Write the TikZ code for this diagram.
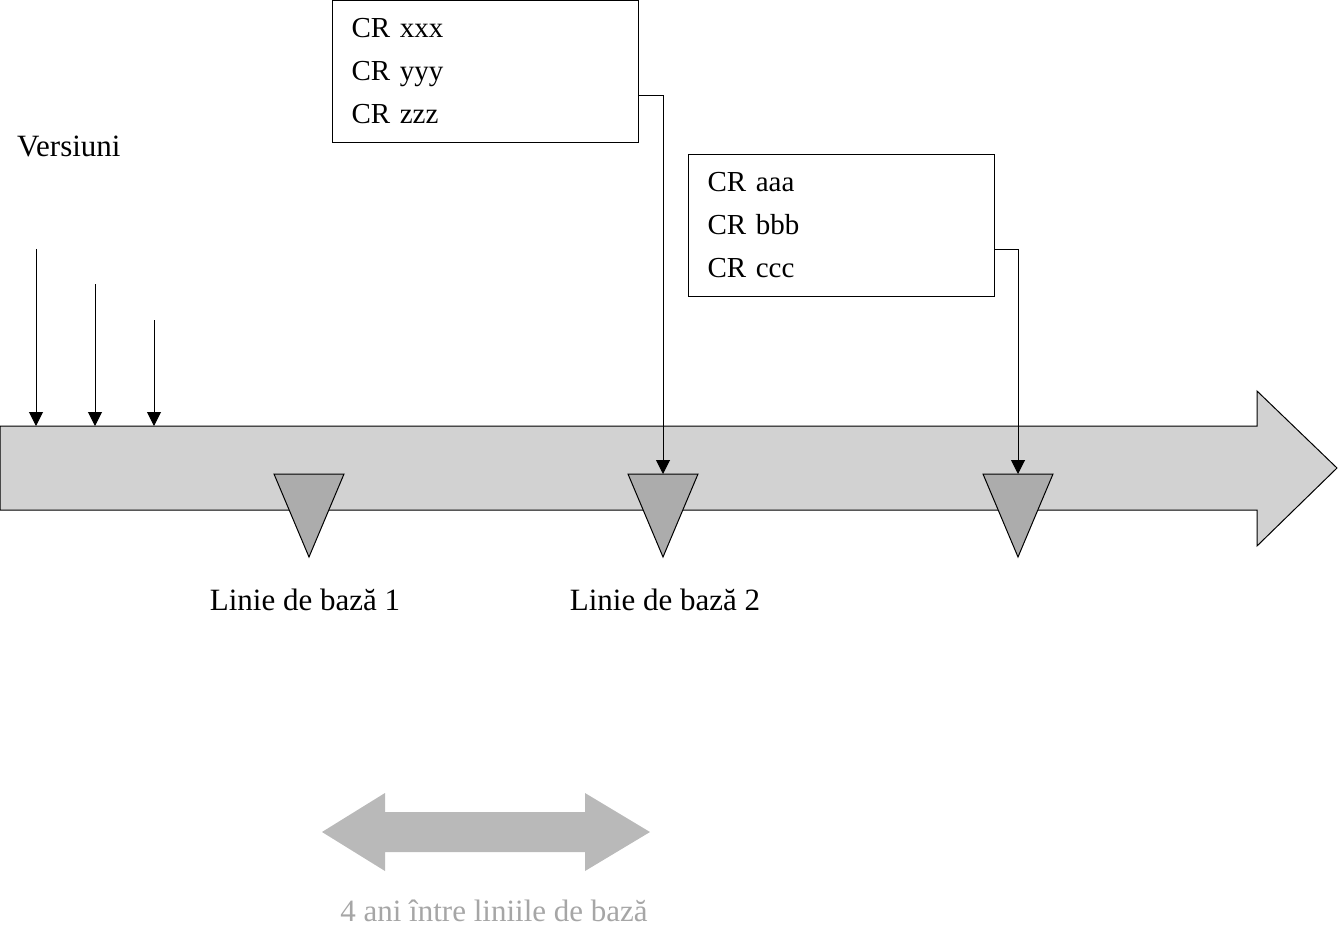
\documentclass[tikz,border=0pt]{standalone}
\usepackage{fontspec}
\setmainfont{Liberation Serif}
\usetikzlibrary{arrows.meta,patterns}
\begin{document}
\begin{tikzpicture}[x=1pt,y=-1pt,
  txt/.style={font=\fontsize{31}{43}\selectfont, inner sep=0pt},
  crbox/.style={draw=black, line width=1pt, fill=white, anchor=north west,
    minimum width=306pt, minimum height=142pt, text width=268pt,
    inner xsep=19pt, align=left, font=\fontsize{29}{43}\selectfont},
  conn/.style={draw=black, line width=1pt, -{Triangle[length=14pt,width=14pt]}},
  bar/.style={draw=black, line width=1pt, fill=gray!35},
  tri/.style={draw=black, line width=1pt, fill=gray!65},
]
\useasboundingbox (0,0) rectangle (1339,928);
% main timeline arrow
\draw[bar] (0,426) -- (1257,426) -- (1257,391) -- (1337,468) -- (1257,546)
  -- (1257,510) -- (0,510) -- cycle;
% baseline triangles
\draw[tri] (274,474) -- (344,474) -- (309,557) -- cycle;
\draw[tri] (628,474) -- (698,474) -- (663,557) -- cycle;
\draw[tri] (983,474) -- (1053,474) -- (1018,557) -- cycle;
\coordinate (t2) at (663,474);
\coordinate (t3) at (1018,474);
% version arrows
\coordinate (v1s) at (36,249);  \coordinate (v1e) at (36,426);
\coordinate (v2s) at (95,284);  \coordinate (v2e) at (95,426);
\coordinate (v3s) at (154,320); \coordinate (v3e) at (154,426);
\draw[conn] (v1s) -- (v1e);
\draw[conn] (v2s) -- (v2e);
\draw[conn] (v3s) -- (v3e);
\node[txt, anchor=west] (vers) at (17,146) {Versiuni};
% CR boxes
\node[crbox] (box1) at (332,0) {CR xxx\\CR yyy\\CR zzz};
\node[crbox] (box2) at (688,154) {CR aaa\\CR bbb\\CR ccc};
\draw[conn] ([yshift=-24pt]box1.east) -| (t2);
\draw[conn] ([yshift=-24pt]box2.east) -| (t3);
% labels
\node[txt] (lb1) at (305,600) {Linie de bază 1};
\node[txt] (lb2) at (665,600) {Linie de bază 2};
% double arrow
\fill[gray!55] (322,832) -- (385,793) -- (385,812) -- (585,812) -- (585,793)
  -- (650,832) -- (585,871) -- (585,852) -- (385,852) -- (385,871) -- cycle;
\node[txt, text=gray!70] (span) at (494,911) {4 ani între liniile de bază};
\end{tikzpicture}
\end{document}
